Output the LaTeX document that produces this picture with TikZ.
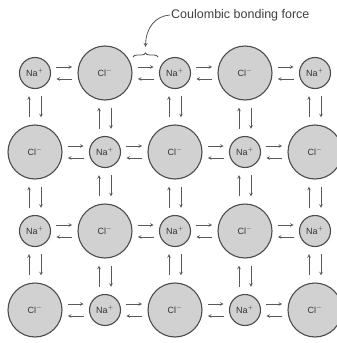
\documentclass[tikz,border=0pt]{standalone}
\usepackage{fontspec}
\setsansfont{Liberation Sans}
\usetikzlibrary{calc,decorations.pathreplacing}
\begin{document}
\begin{tikzpicture}[x=1pt,y=-1pt]
    \tikzstyle{ion}=[circle,line width=1.1pt,draw=black!70,fill=black!18,inner sep=0pt,font=\sffamily\fontsize{9}{10}\selectfont,text=black!80]
    \tikzstyle{na}=[ion,minimum size=31pt]
    \tikzstyle{cl}=[ion,minimum size=54pt]
    \tikzstyle{edge}=[draw=black!65,semithick,->,>=stealth]
    \useasboundingbox (0,0) rectangle (337,343);
    \begin{scope}
        % row 1
        \node [na] (n11) at (35,73) {Na$^+$};
        \node [cl] (n12) at (105,73) {Cl$^-$};
        \node [na] (n13) at (175,73) {Na$^+$};
        \node [cl] (n14) at (245,73) {Cl$^-$};
        \node [na] (n15) at (315,73) {Na$^+$};
        % row 2
        \node [cl] (n21) at (35,152) {Cl$^-$};
        \node [na] (n22) at (105,152) {Na$^+$};
        \node [cl] (n23) at (175,152) {Cl$^-$};
        \node [na] (n24) at (245,152) {Na$^+$};
        \node [cl] (n25) at (315,152) {Cl$^-$};
        % row 3
        \node [na] (n31) at (35,231) {Na$^+$};
        \node [cl] (n32) at (105,231) {Cl$^-$};
        \node [na] (n33) at (175,231) {Na$^+$};
        \node [cl] (n34) at (245,231) {Cl$^-$};
        \node [na] (n35) at (315,231) {Na$^+$};
        % row 4
        \node [cl] (n41) at (35,310) {Cl$^-$};
        \node [na] (n42) at (105,310) {Na$^+$};
        \node [cl] (n43) at (175,310) {Cl$^-$};
        \node [na] (n44) at (245,310) {Na$^+$};
        \node [cl] (n45) at (315,310) {Cl$^-$};
        % horizontal pairs
        \foreach \r in {1,2,3,4}
            \foreach \c/\d in {1/2,2/3,3/4,4/5} {
                \path[edge] ($(n\r\c.east)!.2!(n\r\d.west)+(0,-6)$) -- ($(n\r\c.east)!.8!(n\r\d.west)+(0,-6)$);
                \path[edge] ($(n\r\c.east)!.8!(n\r\d.west)+(0,6)$) -- ($(n\r\c.east)!.2!(n\r\d.west)+(0,6)$);
            }
        % vertical pairs
        \foreach \r/\s in {1/2,2/3,3/4}
            \foreach \c in {1,2,3,4,5} {
                \path[edge] ($(n\r\c.south)!.8!(n\s\c.north)+(-6,0)$) -- ($(n\r\c.south)!.2!(n\s\c.north)+(-6,0)$);
                \path[edge] ($(n\r\c.south)!.2!(n\s\c.north)+(6,0)$) -- ($(n\r\c.south)!.8!(n\s\c.north)+(6,0)$);
            }
        % bonding force callout
        \node [font=\sffamily\fontsize{12.5}{13}\selectfont,text=black!75,anchor=west,inner sep=1pt] (lbl) at (170,15) {Coulombic bonding force};
        \draw[draw=black!70,thick,decorate,decoration={brace,amplitude=4pt}] (133,57) -- (158,57);
        \coordinate (brc) at (145.5,47);
        \path[edge,thick] (lbl.west) .. controls (155,16) and (146,28) .. (brc);
    \end{scope}
\end{tikzpicture}
\end{document}
